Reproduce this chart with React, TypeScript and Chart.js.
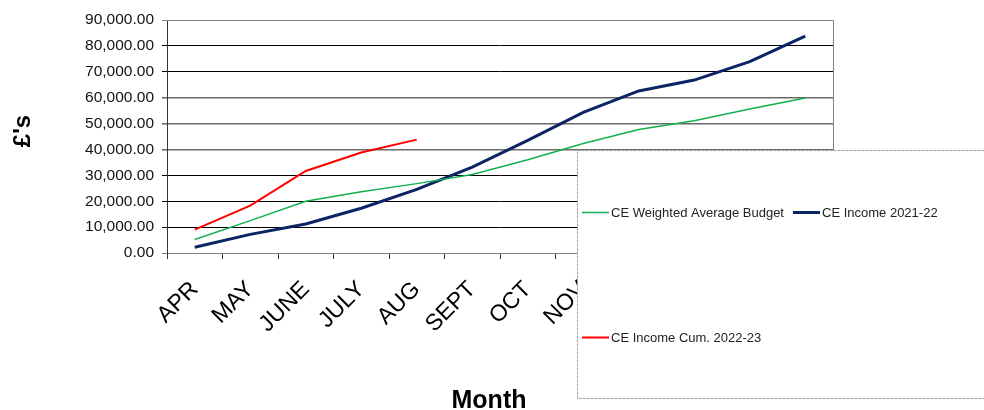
import React, { useEffect, useRef } from "react";
import { Chart, registerables } from "chart.js";

Chart.register(...registerables);

const months = ["APR", "MAY", "JUNE", "JULY", "AUG", "SEPT", "OCT", "NOV", "DEC", "JAN", "FEB", "MAR"];
const budget = [5200, 12500, 20000, 23700, 26800, 30300, 36000, 42300, 47700, 51100, 55600, 59900];
const income2122 = [2200, 7200, 11200, 17300, 24600, 33200, 43500, 54300, 62600, 66800, 73900, 83800];
const income2223 = [9000, 18300, 31700, 38800, 43800];
const yTicks = [0, 10000, 20000, 30000, 40000, 50000, 60000, 70000, 80000, 90000];
const xTitle = "Month";
const yTitle = "£'s";

const FONT = "'Liberation Sans', Arial, sans-serif";

const titlesPlugin = {
  id: "axisTitles",
  afterDraw(chart: any) {
    const ctx = chart.ctx;
    ctx.save();
    ctx.fillStyle = "#000000";
    ctx.textAlign = "center";
    ctx.textBaseline = "alphabetic";
    ctx.font = "bold 25px " + FONT;
    ctx.fillText(xTitle, 489, 408);
    ctx.translate(30, 131);
    ctx.rotate(-Math.PI / 2);
    ctx.font = "bold 24px " + FONT;
    ctx.fillText(yTitle, 0, 0);
    ctx.restore();
  },
};

const legendPlugin = {
  id: "boxLegend",
  afterDraw(chart: any) {
    const ctx = chart.ctx;
    const ds = chart.data.datasets;
    ctx.save();
    const bx = 577.5, by = 150.5, bw = 420, bh = 248;
    ctx.fillStyle = "#ffffff";
    ctx.fillRect(bx, by, bw, bh);
    ctx.strokeStyle = "#a0a0a0";
    ctx.lineWidth = 1;
    ctx.setLineDash([3, 1]);
    ctx.strokeRect(bx, by, bw, bh);
    ctx.setLineDash([]);
    const pos = [
      { x: 582, y: 212 },
      { x: 793, y: 212 },
      { x: 582, y: 337 },
    ];
    ctx.font = "13px " + FONT;
    ctx.textBaseline = "middle";
    ctx.textAlign = "left";
    ds.forEach((d: any, i: number) => {
      const p = pos[i];
      ctx.strokeStyle = d.borderColor;
      ctx.lineWidth = d.borderWidth;
      ctx.beginPath();
      ctx.moveTo(p.x, p.y + 0.5);
      ctx.lineTo(p.x + 27, p.y + 0.5);
      ctx.stroke();
      ctx.fillStyle = "#222222";
      ctx.fillText(d.label, p.x + 29, p.y + 1);
    });
    ctx.restore();
  },
};

const borderPlugin = {
  id: "plotBorder",
  afterDatasetsDraw(chart: any) {
    const { ctx, chartArea } = chart;
    ctx.save();
    ctx.strokeStyle = "#808080";
    ctx.lineWidth = 1;
    ctx.beginPath();
    ctx.moveTo(chartArea.left, chartArea.top + 0.5);
    ctx.lineTo(chartArea.right + 0.5, chartArea.top + 0.5);
    ctx.lineTo(chartArea.right + 0.5, chartArea.bottom);
    ctx.stroke();
    ctx.restore();
  },
};

export default function App() {
  const ref = useRef<HTMLCanvasElement>(null);
  useEffect(() => {
    if (!ref.current) return;
    const chart = new Chart(ref.current, {
      type: "line",
      data: {
        labels: months,
        datasets: [
          {
            label: "CE Weighted Average Budget",
            data: budget,
            borderColor: "#12b050",
            borderWidth: 1.5,
            pointRadius: 0,
            tension: 0,
          },
          {
            label: "CE Income 2021-22",
            data: income2122,
            borderColor: "#0a2466",
            borderWidth: 3,
            pointRadius: 0,
            tension: 0,
          },
          {
            label: "CE Income Cum. 2022-23",
            data: income2223,
            borderColor: "#ff0000",
            borderWidth: 2,
            pointRadius: 0,
            tension: 0,
          },
        ],
      },
      options: {
        animation: false,
        responsive: true,
        maintainAspectRatio: false,
        layout: { padding: { left: 0, top: 20, right: 151, bottom: 0 } },
        plugins: { legend: { display: false }, tooltip: { enabled: false } },
        scales: {
          x: {
            type: "category",
            offset: true,
            afterFit: (s: any) => {
              s.height = 157;
            },
            grid: {
              offset: true,
              drawOnChartArea: false,
              drawTicks: true,
              tickLength: 6,
              color: "#333333",
            },
            border: { color: "#808080", width: 1 },
            ticks: {
              minRotation: 45,
              maxRotation: 45,
              autoSkip: false,
              color: "#000000",
              padding: 17,
              font: { family: FONT, size: 23 },
            },
            title: { display: false },
          },
          y: {
            min: 0,
            max: 90000,
            afterFit: (s: any) => {
              s.width = 167;
            },
            afterBuildTicks: (s: any) => {
              s.ticks = yTicks.map((v) => ({ value: v }));
            },
            grid: {
              drawTicks: true,
              tickLength: 5,
              color: (c: any) => {
                const v = c.tick && c.tick.value;
                if (v === 90000 || v === 0) return "#808080";
                if (v >= 40000 && v <= 60000) return "#6a6a6a";
                return "#000000";
              },
              lineWidth: (c: any) => {
                const v = c.tick && c.tick.value;
                if (v >= 40000 && v <= 60000) return 1.6;
                return 1;
              },
            },
            border: { color: "#333333", width: 1 },
            ticks: {
              color: "#111111",
              padding: 8,
              font: { family: FONT, size: 15.5 },
              callback: (v: any) =>
                Number(v).toLocaleString("en-GB", { minimumFractionDigits: 2, maximumFractionDigits: 2 }),
            },
            title: { display: false },
          },
        },
      },
      plugins: [borderPlugin, titlesPlugin, legendPlugin],
    } as any);
    return () => chart.destroy();
  }, []);
  return (
    <div style={{ position: "absolute", left: 0, top: 0, width: 984, height: 410 }}>
      <canvas ref={ref} />
    </div>
  );
}
